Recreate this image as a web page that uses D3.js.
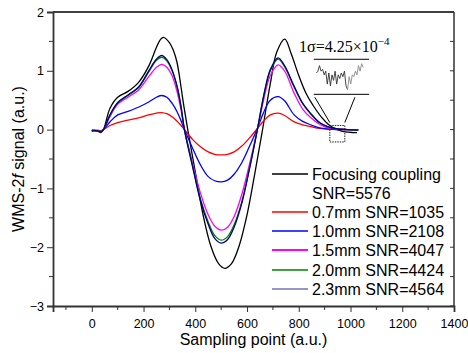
<!DOCTYPE html>
<html>
<head>
<meta charset="utf-8">
<script src="https://cdn.jsdelivr.net/npm/d3@7"></script>
<style>
  body { margin: 0; background: #fff; }
  svg { display: block; font-family: "Liberation Sans", Arial, sans-serif; }
</style>
</head>
<body>
<svg id="chart" width="468" height="353"></svg>
<script>
// sampling points for each trace (a.u.)
var xFocus = [0, 20, 35, 45, 70, 100, 140, 180, 220, 250, 265, 277, 300, 315, 329, 345, 355, 370, 400, 430, 460, 490, 514, 540, 570, 600, 630, 660, 690, 715, 746, 770, 800, 830, 860, 890, 920, 950, 980, 1010, 1025];
var yFocus = [-0.02, -0.02, -0.05, 0.0, 0.36, 0.55, 0.65, 0.80, 1.08, 1.40, 1.53, 1.57, 1.48, 1.35, 1.15, 0.72, 0.42, 0.02, -0.72, -1.45, -1.98, -2.28, -2.36, -2.28, -1.97, -1.45, -0.75, 0.0, 0.78, 1.32, 1.54, 1.30, 0.92, 0.60, 0.38, 0.20, 0.07, 0.0, -0.04, -0.05, -0.05];

var xRef = [0, 20, 35, 45, 70, 100, 140, 180, 220, 250, 270, 290, 310, 330, 345, 358, 390, 420, 450, 475, 500, 525, 550, 580, 610, 640, 665, 690, 720, 745, 782, 815, 847, 880, 911, 950, 990, 1030];
var y07 = [-0.01, -0.01, -0.02, 0.0, 0.07, 0.12, 0.16, 0.20, 0.25, 0.28, 0.29, 0.27, 0.22, 0.14, 0.07, 0.0, -0.17, -0.29, -0.38, -0.42, -0.43, -0.42, -0.38, -0.28, -0.14, 0.02, 0.15, 0.25, 0.28, 0.24, 0.13, 0.08, 0.05, 0.02, 0.01, 0.0, 0.0, 0.0];
var y10 = [-0.01, -0.02, -0.03, 0.0, 0.13, 0.25, 0.31, 0.38, 0.47, 0.55, 0.58, 0.55, 0.45, 0.30, 0.15, 0.0, -0.32, -0.60, -0.80, -0.87, -0.89, -0.86, -0.76, -0.56, -0.28, 0.02, 0.30, 0.50, 0.56, 0.49, 0.25, 0.14, 0.08, 0.03, 0.01, 0.0, 0.0, 0.0];
var y15 = [-0.02, -0.02, -0.04, 0.0, 0.22, 0.43, 0.55, 0.67, 0.90, 1.06, 1.11, 1.06, 0.92, 0.64, 0.33, 0.0, -0.58, -1.08, -1.45, -1.64, -1.71, -1.66, -1.48, -1.10, -0.58, 0.0, 0.52, 0.92, 1.10, 1.00, 0.62, 0.35, 0.20, 0.09, 0.03, 0.01, 0.0, 0.0];
var y20 = [-0.02, -0.02, -0.04, 0.0, 0.24, 0.45, 0.58, 0.71, 0.98, 1.18, 1.23, 1.17, 1.00, 0.72, 0.38, 0.0, -0.62, -1.18, -1.57, -1.80, -1.88, -1.82, -1.62, -1.22, -0.64, 0.0, 0.58, 1.00, 1.20, 1.07, 0.72, 0.44, 0.26, 0.12, 0.05, 0.01, 0.0, -0.01];
var y23 = [-0.02, -0.02, -0.04, 0.0, 0.25, 0.46, 0.59, 0.72, 1.00, 1.20, 1.26, 1.19, 1.02, 0.73, 0.39, 0.0, -0.64, -1.21, -1.61, -1.85, -1.93, -1.87, -1.66, -1.25, -0.66, 0.0, 0.59, 1.02, 1.22, 1.09, 0.74, 0.45, 0.27, 0.12, 0.05, 0.01, 0.0, -0.01];

var seriesNames = ["Focusing coupling", "0.7mm SNR=1035", "1.0mm SNR=2108", "1.5mm SNR=4047", "2.0mm SNR=4424", "2.3mm SNR=4564"];
var seriesColors = ["#000000", "#ff0000", "#0000ff", "#ff00ff", "#008000", "#000080"];

var xTicks = [0, 200, 400, 600, 800, 1000, 1200, 1400];
var yTicks = [-3, -2, -1, 0, 1, 2];

// zoomed noise in the inset (x 1e-4)
var noise = [2, 3, 6, 3, 4, 1, 3, -4, 2, -5, 1, -2, 3, -4, 1, -1, 2, 0, 3, -5, -7, 0, -4, 1, 0, 3, 1, 6, 3, 7, 5];

var svg = d3.select("#chart");
var pL = 53, pR = 454, pT = 12, pB = 306;

var x = d3.scaleLinear().domain([-150, 1400]).range([pL, pR]);
var y = d3.scaleLinear().domain([-3, 2]).range([pB, pT]);

var axisColor = "#333";

// frame top and right
svg.append("line").attr("x1", pL).attr("x2", pR).attr("y1", pT).attr("y2", pT)
    .attr("stroke", "#000").attr("stroke-width", 1.5);
svg.append("line").attr("x1", pR).attr("x2", pR).attr("y1", pT).attr("y2", pB)
    .attr("stroke", axisColor).attr("stroke-width", 1.5);

// right side inner ticks
d3.range(-3, 2.01, 0.5).forEach(function(v){
    svg.append("line").attr("x1", pR).attr("x2", pR - 4)
	.attr("y1", y(v)).attr("y2", y(v))
	.attr("stroke", axisColor).attr("stroke-width", 1);
});

// bottom axis
var xAxis = d3.axisBottom(x).tickValues(xTicks).tickSize(6).tickFormat(d3.format("d"));
var gx = svg.append("g").attr("transform", "translate(0," + pB + ")").call(xAxis);
gx.select(".domain").attr("stroke", axisColor).attr("stroke-width", 1.8);
gx.selectAll(".tick line").attr("stroke", axisColor);
gx.selectAll(".tick text").attr("font-size", 12.5).attr("fill", "#000")
    .attr("font-family", "Liberation Sans, Arial, sans-serif").attr("dy", "1.05em");
d3.range(-100, 1400, 200).forEach(function(v){
    svg.append("line").attr("x1", x(v)).attr("x2", x(v))
	.attr("y1", pB).attr("y2", pB + 4).attr("stroke", axisColor);
});

// left axis
var yAxis = d3.axisLeft(y).tickValues(yTicks).tickSize(6).tickFormat(d3.format("d"));
var gy = svg.append("g").attr("transform", "translate(" + pL + ",0)").call(yAxis);
gy.select(".domain").attr("stroke", axisColor).attr("stroke-width", 1.8);
gy.selectAll(".tick line").attr("stroke", axisColor);
gy.selectAll(".tick text").attr("font-size", 12.5).attr("fill", "#000")
    .attr("font-family", "Liberation Sans, Arial, sans-serif").attr("x", -9);
[-2.5, -1.5, -0.5, 0.5, 1.5].forEach(function(v){
    svg.append("line").attr("x1", pL).attr("x2", pL - 4)
	.attr("y1", y(v)).attr("y2", y(v)).attr("stroke", axisColor);
});

// axis titles
svg.append("text").attr("x", (pL + pR) / 2).attr("y", 345)
    .attr("text-anchor", "middle").attr("font-size", 16).text("Sampling point (a.u.)");
var yl = svg.append("text").attr("transform", "translate(24," + ((pT + pB) / 2) + ") rotate(-90)")
    .attr("text-anchor", "middle").attr("font-size", 16);
yl.append("tspan").text("WMS-2");
yl.append("tspan").attr("font-style", "italic").text("f");
yl.append("tspan").text(" signal (a.u.)");

// curves
var line = d3.line()
    .x(function(d){ return x(d[0]); })
    .y(function(d){ return y(d[1]); })
    .curve(d3.curveCatmullRom.alpha(0.5));

var allY = [yFocus, y07, y10, y15, y20, y23];
allY.forEach(function(ys, i){
    var xs = i === 0 ? xFocus : xRef;
    var pts = xs.map(function(v, j){ return [v, ys[j]]; });
    svg.append("path").attr("d", line(pts))
	.attr("fill", "none")
	.attr("stroke", seriesColors[i])
	.attr("stroke-width", 1.3);
});

// inset: dashed box, connector lines, horizontal rules and zoomed noise
svg.append("rect")
    .attr("x", x(920)).attr("y", y(0.07))
    .attr("width", x(978) - x(920)).attr("height", y(-0.21) - y(0.07))
    .attr("fill", "none").attr("stroke", "#222").attr("stroke-width", 1)
    .attr("stroke-dasharray", "1.5,1");
svg.append("line").attr("x1", x(862)).attr("y1", y(0.55)).attr("x2", x(920)).attr("y2", y(0.12))
    .attr("stroke", "#000").attr("stroke-width", 1);
svg.append("line").attr("x1", x(1017)).attr("y1", y(0.55)).attr("x2", x(978)).attr("y2", y(0.12))
    .attr("stroke", "#000").attr("stroke-width", 1);
[1.196, 0.60].forEach(function(v){
    svg.append("line").attr("x1", x(858)).attr("x2", x(1072))
	.attr("y1", y(v)).attr("y2", y(v))
	.attr("stroke", "#000").attr("stroke-width", 1);
});

var nx = d3.scaleLinear().domain([0, noise.length - 1]).range([x(868), x(1049)]);
var ny = d3.scaleLinear().domain([-7, 7]).range([y(0.68), y(1.12)]);
var noiseLine = d3.line().x(function(d, i){ return nx(i); }).y(function(d){ return ny(d); });
var split = 20;
svg.append("path").attr("d", noiseLine(noise.slice(0, split + 1)))
    .attr("fill", "none").attr("stroke", "#333").attr("stroke-width", 0.9);
svg.append("path")
    .attr("d", d3.line().x(function(d, i){ return nx(i + split); }).y(function(d){ return ny(d); })(noise.slice(split)))
    .attr("fill", "none").attr("stroke", "#888").attr("stroke-width", 0.9);

var sig = svg.append("text").attr("x", 299).attr("y", 52)
    .attr("font-family", "Liberation Serif, Times New Roman, serif").attr("font-size", 16);
sig.append("tspan").text("1σ=4.25×10");
sig.append("tspan").attr("dy", -7).attr("font-size", 11).text("−4");

// legend
var legendRows = [174, 212, 231, 250, 270, 289];
legendRows.forEach(function(ly, i){
    svg.append("line").attr("x1", 272).attr("x2", 308).attr("y1", ly).attr("y2", ly)
	.attr("stroke", seriesColors[i]).attr("stroke-width", i === 3 ? 2 : 1.3)
	.attr("opacity", i === 5 ? 0.55 : 1);
    svg.append("text").attr("x", 312).attr("y", ly).attr("dy", "0.36em")
	.attr("font-size", 16).text(seriesNames[i]);
});
svg.append("text").attr("x", 312).attr("y", 193).attr("dy", "0.36em")
    .attr("font-size", 16).text("SNR=5576");
</script>
</body>
</html>
